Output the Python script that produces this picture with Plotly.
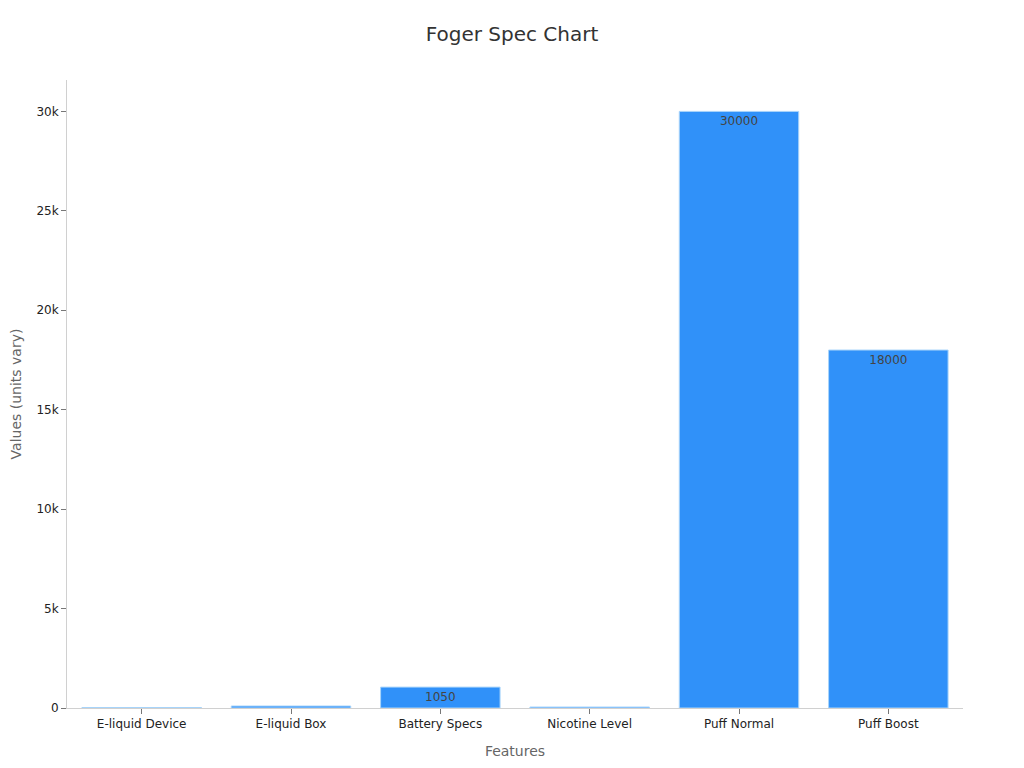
import plotly.graph_objects as go

# chart data
features = ["E-liquid Device", "E-liquid Box", "Battery Specs",
            "Nicotine Level", "Puff Normal", "Puff Boost"]
values = [20, 100, 1050, 50, 30000, 18000]

fig = go.Figure(
    go.Bar(
        x=features,
        y=values,
        text=values,
        textposition="inside",
        insidetextanchor="end",
        insidetextfont=dict(color="#444444", size=12),
        marker=dict(color="#3091F9", line=dict(color="#A8D4FA", width=1)),
    )
)

# the page adds an 8px body margin, so size fits inside it
fig.update_layout(
    width=1008,
    height=752,
    font=dict(family="DejaVu Sans", color="#333333"),
    title=dict(text="Foger Spec Chart", x=0.5, xanchor="center", y=0.975,
               font=dict(size=20, color="#333333")),
    paper_bgcolor="white",
    plot_bgcolor="white",
    margin=dict(l=59, r=53, t=72, b=52),
    bargap=0.2,
    uniformtext=dict(minsize=10, mode="hide"),
    showlegend=False,
)
fig.update_xaxes(
    title=dict(text="Features", font=dict(size=14, color="#666666")),
    showline=True, linecolor="#d0d0d0", linewidth=1,
    ticks="outside", tickcolor="#777777", ticklen=5,
    tickfont=dict(size=12, color="#222222"),
    showgrid=False, automargin=False,
)
fig.update_yaxes(
    title=dict(text="Values (units vary)", font=dict(size=14, color="#666666"),
               standoff=13),
    showline=True, linecolor="#d0d0d0", linewidth=1,
    ticks="outside", tickcolor="#777777", ticklen=5,
    tickfont=dict(size=12, color="#222222"),
    showgrid=False, zeroline=False, automargin=False,
    dtick=5000, tickformat="~s",
)

fig.write_html("out.html")
